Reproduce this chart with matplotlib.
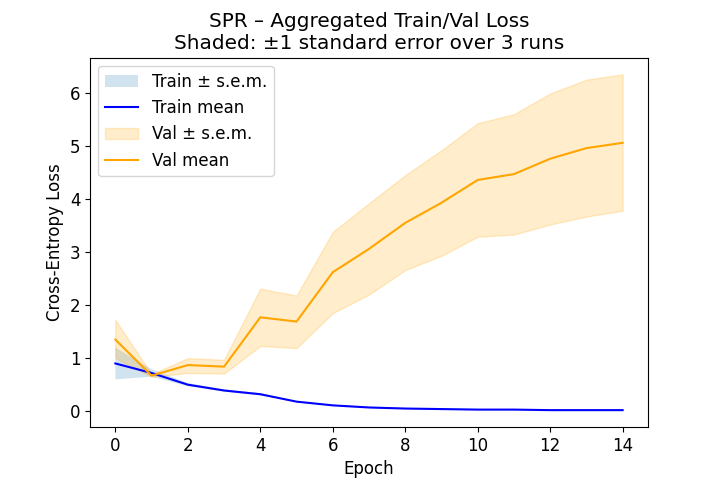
import matplotlib
matplotlib.use("Agg")
import matplotlib.pyplot as plt
import numpy as np

plt.rcParams["font.size"] = 12

epochs = np.arange(15)
train_mean = [0.90, 0.72, 0.50, 0.39, 0.32, 0.18, 0.11, 0.07, 0.05, 0.04, 0.03, 0.03, 0.02, 0.02, 0.02]
train_sem = [0.30, 0.07, 0.03, 0.02, 0.02, 0.01, 0.01, 0.01, 0.01, 0.01, 0.005, 0.005, 0.005, 0.005, 0.005]
val_mean = [1.35, 0.67, 0.87, 0.84, 1.77, 1.69, 2.62, 3.06, 3.55, 3.93, 4.36, 4.47, 4.76, 4.96, 5.06]
val_low = [1.00, 0.65, 0.72, 0.71, 1.23, 1.19, 1.85, 2.20, 2.66, 2.93, 3.29, 3.33, 3.52, 3.67, 3.78]
val_high = [1.72, 0.70, 1.00, 0.97, 2.31, 2.18, 3.38, 3.92, 4.45, 4.92, 5.43, 5.60, 5.99, 6.25, 6.35]

tm = np.array(train_mean)
ts = np.array(train_sem)

fig = plt.figure(figsize=(7.2, 4.8), dpi=100)
plt.fill_between(epochs, tm - ts, tm + ts, alpha=0.2, label="Train ± s.e.m.")
plt.plot(epochs, tm, color="blue", label="Train mean")
plt.fill_between(epochs, val_low, val_high, color="orange", alpha=0.2, label="Val ± s.e.m.")
plt.plot(epochs, val_mean, color="orange", label="Val mean")
plt.title("SPR – Aggregated Train/Val Loss\nShaded: ±1 standard error over 3 runs")
plt.xlabel("Epoch")
plt.ylabel("Cross-Entropy Loss")
plt.legend()
plt.savefig("out.png", dpi=100)
